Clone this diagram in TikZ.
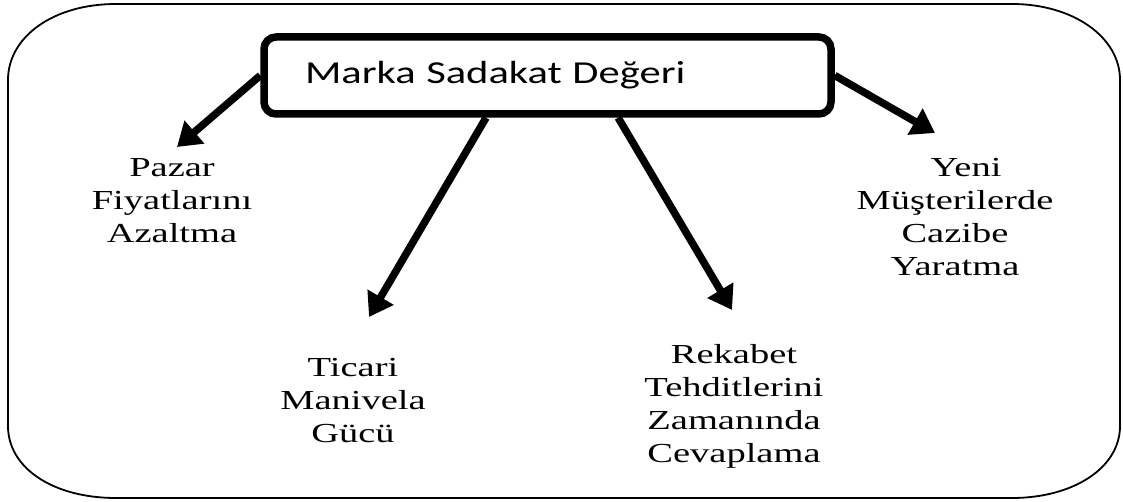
\documentclass[tikz,border=0pt]{standalone}
\usepackage{fontspec}
\setmainfont{Liberation Serif}[FakeStretch=1.40]
\newfontfamily\markafont{Carlito}[FakeStretch=1.33]
\usetikzlibrary{arrows.meta,calc}
\pgfdeclarelayer{background}
\pgfsetlayers{background,main}
\tikzset{
  frame/.style={draw=black, line width=1.8pt},
  mainbox/.style={draw=black, line width=7.5pt, rounded corners=12pt, fill=white,
    minimum height=77pt, text width=485pt, inner xsep=41pt, inner ysep=0pt,
    align=left, font={\markafont\fontsize{32}{36}\selectfont}},
  leaf/.style={inner sep=0pt, text width=260pt, align=center, anchor=base,
    font={\fontsize{27.5}{33}\selectfont}},
  arr/.style={line width=7.5pt, -{Triangle[length=23pt,width=29pt]}},
}
\begin{document}
\begin{tikzpicture}[x=1pt,y=-1pt]
\useasboundingbox (0,0) rectangle (1123,502);
% outer frame
\draw[frame] (8,80) .. controls (8,37) and (53,4) .. (116,4) -- (1012,4)
  .. controls (1073,4) and (1120,37) .. (1120,80) -- (1120,426)
  .. controls (1120,468) and (1073,498) .. (1012,498) -- (116,498)
  .. controls (53,498) and (8,468) .. (8,426) -- cycle;
% central box
\node[mainbox] (box) at (547.5,75.5) {Marka Sadakat Değeri};
% leaves
\node[leaf] (pazar) at (172,177) {Pazar\\Fiyatlarını\\Azaltma};
\node[leaf] (ticari) at (353,376) {Ticari\\Manivela\\Gücü};
\node[leaf] (rekabet) at (734,363) {Rekabet\\Tehditlerini\\Zamanında\\Cevaplama};
\node[leaf] (yeni) at (955,177) {\hspace*{22pt}Yeni\\Müşterilerde\\Cazibe\\Yaratma};
% arrow tips
\coordinate (t1) at (177,147);
\coordinate (t2) at (369,317);
\coordinate (t3) at (732,310);
\coordinate (t4) at (935,133);
\begin{pgfonlayer}{background}
\draw[arr] (box.west) -- (t1);
\draw[arr] ($(box.south west)!0.393!(box.south east)$) -- (t2);
\draw[arr] ($(box.south west)!0.623!(box.south east)$) -- (t3);
\draw[arr] (box.east) -- (t4);
\end{pgfonlayer}
\end{tikzpicture}
\end{document}
